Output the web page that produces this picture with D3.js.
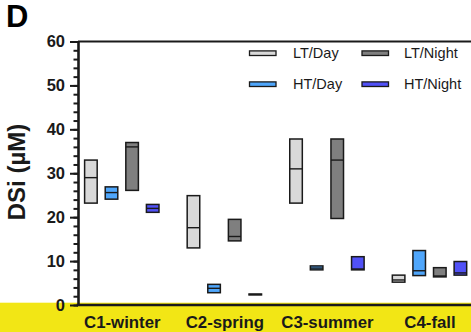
<!DOCTYPE html>
<html>
<head>
<meta charset="utf-8">
<script src="https://cdn.jsdelivr.net/npm/d3@7"></script>
<style>
  html, body { margin: 0; padding: 0; background: #fff; }
  svg { display: block; font-family: "Liberation Sans", Arial, sans-serif; }
</style>
</head>
<body>
<svg id="chart" width="471" height="332"></svg>
<script>
// Sampling campaigns (seasons)
const categories = ["C1-winter", "C2-spring", "C3-summer", "C4-fall"];
// Tide / time-of-day series, in drawing order within each campaign
const series = ["LT/Day", "HT/Day", "LT/Night", "HT/Night"];
const yTicks = [0, 10, 20, 30, 40, 50, 60];

// DSi (µM): minimum, maximum and median per campaign
const ltDayMin   = [23.2, 13.0, 23.2, 5.2];
const ltDayMax   = [33.0, 24.9, 37.8, 6.8];
const ltDayMid   = [29.0, 17.6, 31.0, 5.7];

const htDayMin   = [24.1, 2.8, 8.0, 6.7];
const htDayMax   = [26.9, 4.7, 8.9, 12.4];
const htDayMid   = [25.6, 3.8, 8.4, 7.8];

const ltNightMin = [26.1, 14.6, 19.7, 6.4];
const ltNightMax = [37.0, 19.5, 37.8, 8.5];
const ltNightMid = [36.0, 15.6, 33.0, 6.6];

const htNightMin = [21.1, 2.3, 8.0, 6.8];
const htNightMax = [22.9, 2.5, 11.0, 9.9];
const htNightMid = [22.0, 2.4, 8.2, 7.3];

const fills = {
  "LT/Day": "#d9d9d9",
  "HT/Day": "#4fa6fb",
  "LT/Night": "#7f7f7f",
  "HT/Night": "#5151f6"
};

const seriesData = {
  "LT/Day":   { min: ltDayMin,   max: ltDayMax,   mid: ltDayMid },
  "HT/Day":   { min: htDayMin,   max: htDayMax,   mid: htDayMid },
  "LT/Night": { min: ltNightMin, max: ltNightMax, mid: ltNightMid },
  "HT/Night": { min: htNightMin, max: htNightMax, mid: htNightMid }
};

const rows = [];
categories.forEach((c, i) => {
  series.forEach(s => {
    rows.push({ cat: c, ser: s, min: seriesData[s].min[i], max: seriesData[s].max[i], mid: seriesData[s].mid[i] });
  });
});

const W = 471, H = 332;
const axisX = 78, baseY = 305, topY = 41.5;
const ink = "#1a1a1a";

const svg = d3.select("#chart");

// yellow strip behind the category labels
svg.append("rect")
  .attr("x", 0).attr("y", 302.7)
  .attr("width", W).attr("height", H - 302.7)
  .attr("fill", "#f2e615");

const y = d3.scaleLinear().domain([0, 60]).range([baseY, topY]);
const x = d3.scalePoint().domain(categories).range([121.8, 429.5]);
const xs = d3.scaleBand().domain(series).range([-41.2, 41.2])
  .paddingInner(0.39).paddingOuter(0.195);

// frame line along the top
svg.append("line")
  .attr("x1", axisX).attr("x2", W)
  .attr("y1", topY).attr("y2", topY)
  .attr("stroke", ink).attr("stroke-width", 2.2);

// minor ticks every 2 µM
svg.append("g")
  .attr("transform", `translate(${axisX},0)`)
  .call(d3.axisLeft(y).tickValues(d3.range(0, 61, 2)).tickSize(4.5).tickFormat(""))
  .call(g => g.select(".domain").remove())
  .call(g => g.selectAll("line").attr("stroke", ink).attr("stroke-width", 2));

// major ticks and labels
svg.append("g")
  .attr("transform", `translate(${axisX},0)`)
  .call(d3.axisLeft(y).tickValues(yTicks).tickSize(8).tickSizeOuter(0).tickPadding(5))
  .call(g => g.select(".domain").attr("stroke", ink).attr("stroke-width", 2.6))
  .call(g => g.selectAll("line").attr("stroke", ink).attr("stroke-width", 2))
  .call(g => g.selectAll("text")
    .attr("fill", ink)
    .style("font-size", "16.5px")
    .style("font-weight", "bold"));

// category axis
svg.append("g")
  .attr("transform", `translate(0,${baseY})`)
  .call(d3.axisBottom(x).tickSize(0).tickPadding(11))
  .call(g => g.select(".domain").remove())
  .call(g => g.selectAll("text")
    .attr("fill", ink)
    .style("font-size", "16.8px")
    .style("font-weight", "bold"));

svg.append("line")
  .attr("x1", axisX - 1.3).attr("x2", W)
  .attr("y1", baseY).attr("y2", baseY)
  .attr("stroke", ink).attr("stroke-width", 2.6);

// floating bars: min to max, with a line at the median
const bw = xs.bandwidth();
const bars = svg.append("g").selectAll("g")
  .data(rows).join("g")
  .attr("transform", d => `translate(${x(d.cat) + xs(d.ser)},0)`);

bars.append("rect")
  .attr("x", 0)
  .attr("y", d => y(d.max))
  .attr("width", bw)
  .attr("height", d => Math.max(0.01, y(d.min) - y(d.max)))
  .attr("fill", d => fills[d.ser])
  .attr("stroke", ink)
  .attr("stroke-width", 1.5);

bars.append("line")
  .attr("x1", 0).attr("x2", bw)
  .attr("y1", d => y(d.mid)).attr("y2", d => y(d.mid))
  .attr("stroke", ink)
  .attr("stroke-width", 1.4);

// y-axis title
svg.append("text")
  .attr("transform", `translate(24.5,172) rotate(-90)`)
  .attr("text-anchor", "middle")
  .attr("fill", ink)
  .style("font-size", "24px")
  .style("font-weight", "bold")
  .text("DSi (µM)");

// panel letter
svg.append("text")
  .attr("x", 6).attr("y", 26.5)
  .attr("fill", "#000")
  .style("font-size", "31px")
  .style("font-weight", "bold")
  .text("D");

// legend
const legendPos = [
  { s: "LT/Day",   sx: 249.5, tx: 293, y: 53.2 },
  { s: "LT/Night", sx: 362,   tx: 404, y: 53.2 },
  { s: "HT/Day",   sx: 249.5, tx: 293, y: 84.2 },
  { s: "HT/Night", sx: 362,   tx: 404, y: 84.2 }
];
const leg = svg.append("g").selectAll("g").data(legendPos).join("g");
leg.append("rect")
  .attr("x", d => d.sx).attr("y", d => d.y - 2.3)
  .attr("width", 26.5).attr("height", 4.6)
  .attr("fill", d => fills[d.s])
  .attr("stroke", ink).attr("stroke-width", 1.3);
leg.append("text")
  .attr("x", d => d.tx).attr("y", d => d.y + 5)
  .attr("fill", ink)
  .style("font-size", "14.5px")
  .text(d => d.s);
</script>
</body>
</html>
